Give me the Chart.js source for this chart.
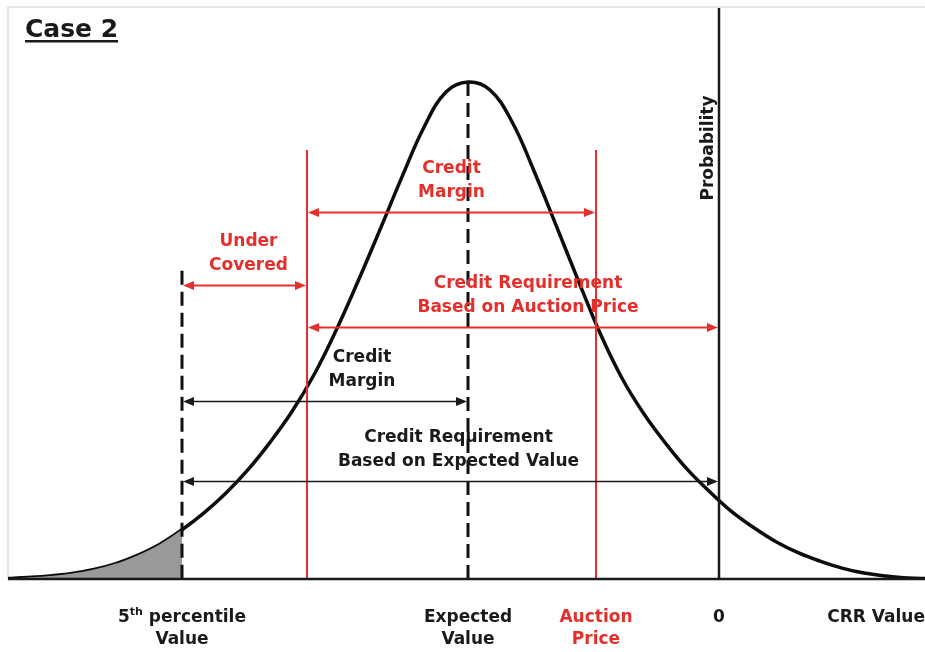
<!DOCTYPE html>
<html><head><meta charset="utf-8">
<script src="https://cdn.jsdelivr.net/npm/chart.js@4.4.1/dist/chart.umd.min.js"></script>
<style>html,body{margin:0;padding:0;background:#fff;}canvas{display:block;}</style>
</head><body>
<canvas id="c" width="925" height="652"></canvas>
<script>
// ---- data (CRR value on x, relative probability density on y) ----
const curveX = [-7.13, -6.91, -6.69, -6.47, -6.25, -6.03, -5.81, -5.59, -5.37, -5.15, -4.93, -4.71, -4.49, -4.27, -4.05, -3.83, -3.61, -3.39, -3.17, -2.95, -2.73, -2.51, -2.29, -2.07, -1.85, -1.63, -1.41, -1.19, -0.97, -0.75, -0.53, -0.31, -0.09, 0.13, 0.35, 0.57, 0.79, 1.01, 1.23, 1.45, 1.67, 1.89, 2.11];
const curveY = [0.001, 0.003, 0.006, 0.011, 0.019, 0.031, 0.048, 0.070, 0.099, 0.133, 0.173, 0.220, 0.275, 0.337, 0.411, 0.500, 0.599, 0.703, 0.809, 0.909, 0.980, 1.0, 0.984, 0.920, 0.821, 0.712, 0.602, 0.495, 0.404, 0.332, 0.272, 0.219, 0.175, 0.135, 0.103, 0.075, 0.053, 0.036, 0.022, 0.012, 0.006, 0.002, 0.001];

const fifthPercentile = -5.37;
const creditReqStart = -4.12;
const expectedValue = -2.51;
const auctionPrice = -1.23;
const zeroValue = 0;

const arrowFrom = [creditReqStart, fifthPercentile, creditReqStart, fifthPercentile, fifthPercentile];
const arrowTo = [auctionPrice, creditReqStart, zeroValue, expectedValue, zeroValue];
const arrowLevel = [0.738, 0.591, 0.507, 0.358, 0.197];
const arrowLabels = [
  ['Credit', 'Margin'],
  ['Under', 'Covered'],
  ['Credit Requirement', 'Based on Auction Price'],
  ['Credit', 'Margin'],
  ['Credit Requirement', 'Based on Expected Value']
];
const arrowRed = [true, true, true, false, false];

const axisTickValues = [fifthPercentile, expectedValue, auctionPrice, zeroValue];
const axisTickLabels = [['5th percentile', 'Value'], ['Expected', 'Value'], ['Auction', 'Price'], ['0']];
const chartTitle = 'Case 2';
const xTitle = 'CRR Value';
const yTitle = 'Probability';

// ---- styling ----
const RED = '#e3302d';
const FONT = 'bold 17px "DejaVu Sans"';
const labelDx = [0, 4, 15, 37, 8];

const tailData = curveX.map((x, i) => ({x, y: curveY[i]})).filter(p => p.x <= fifthPercentile);
const curveData = curveX.map((x, i) => ({x, y: curveY[i]}));

function arrowHead(ctx, x, y, dir, color) {
  ctx.fillStyle = color;
  ctx.beginPath();
  ctx.moveTo(x, y);
  ctx.lineTo(x - dir * 11, y - 4.5);
  ctx.lineTo(x - dir * 11, y + 4.5);
  ctx.closePath();
  ctx.fill();
}

const diagram = {
  id: 'diagram',
  beforeDraw(chart) {
    const {ctx, chartArea: a} = chart;
    ctx.save();
    ctx.strokeStyle = '#e6e6e6';
    ctx.lineWidth = 2;
    ctx.beginPath();
    ctx.moveTo(a.left, a.bottom);
    ctx.lineTo(a.left, a.top - 1);
    ctx.lineTo(a.right, a.top - 1);
    ctx.stroke();
    ctx.restore();
  },
  afterDatasetsDraw(chart) {
    const {ctx, chartArea: a, scales: {x: xs, y: ys}} = chart;
    const px = v => xs.getPixelForValue(v);
    const py = v => ys.getPixelForValue(v);
    ctx.save();
    // dashed lines
    ctx.strokeStyle = '#111';
    ctx.lineWidth = 3;
    ctx.setLineDash([14, 7]);
    ctx.beginPath();
    ctx.moveTo(px(fifthPercentile), py(0.62));
    ctx.lineTo(px(fifthPercentile), a.bottom);
    ctx.moveTo(px(expectedValue), py(1.0));
    ctx.lineTo(px(expectedValue), a.bottom);
    ctx.stroke();
    ctx.setLineDash([]);
    // red lines
    ctx.strokeStyle = RED;
    ctx.lineWidth = 2;
    ctx.beginPath();
    [creditReqStart, auctionPrice].forEach(v => {
      ctx.moveTo(px(v), py(0.863));
      ctx.lineTo(px(v), a.bottom);
    });
    ctx.stroke();
    // zero line
    ctx.strokeStyle = '#1a1a1a';
    ctx.lineWidth = 2.5;
    ctx.beginPath();
    ctx.moveTo(px(zeroValue), a.top);
    ctx.lineTo(px(zeroValue), a.bottom);
    ctx.stroke();
    // baseline
    ctx.beginPath();
    ctx.moveTo(a.left, a.bottom);
    ctx.lineTo(a.right, a.bottom);
    ctx.stroke();
    // arrows
    arrowFrom.forEach((f, i) => {
      const color = arrowRed[i] ? RED : '#1a1a1a';
      const x1 = px(f) + 1, x2 = px(arrowTo[i]) - 1, y = Math.round(py(arrowLevel[i])) + 0.5;
      ctx.strokeStyle = color;
      ctx.lineWidth = arrowRed[i] ? 2 : 1.5;
      ctx.beginPath();
      ctx.moveTo(x1 + 5, y);
      ctx.lineTo(x2 - 5, y);
      ctx.stroke();
      arrowHead(ctx, x1, y, -1, color);
      arrowHead(ctx, x2, y, 1, color);
      const cx = (px(f) + px(arrowTo[i])) / 2 + labelDx[i];
      ctx.fillStyle = color;
      ctx.font = FONT;
      ctx.textAlign = 'center';
      ctx.textBaseline = 'middle';
      ctx.fillText(arrowLabels[i][0], cx, y - 44);
      ctx.fillText(arrowLabels[i][1], cx, y - 20);
    });
    // axis tick labels
    ctx.font = FONT;
    ctx.textBaseline = 'middle';
    axisTickValues.forEach((v, i) => {
      const cx = px(v);
      ctx.fillStyle = v === auctionPrice ? RED : '#1a1a1a';
      const lines = axisTickLabels[i];
      if (lines[0].startsWith('5th')) {
        const rest = lines[0].slice(3);
        ctx.font = FONT;
        const w5 = ctx.measureText('5').width, wr = ctx.measureText(rest).width;
        ctx.font = 'bold 11px "DejaVu Sans"';
        const wt = ctx.measureText('th').width;
        const start = cx - (w5 + wt + wr) / 2;
        ctx.textAlign = 'left';
        ctx.font = FONT;
        ctx.fillText('5', start, a.bottom + 39);
        ctx.font = 'bold 11px "DejaVu Sans"';
        ctx.fillText('th', start + w5, a.bottom + 33);
        ctx.font = FONT;
        ctx.fillText(rest, start + w5 + wt, a.bottom + 39);
      } else {
        ctx.textAlign = 'center';
        ctx.fillText(lines[0], cx, a.bottom + 39);
      }
      ctx.textAlign = 'center';
      if (lines[1]) ctx.fillText(lines[1], cx, a.bottom + 61);
    });
    ctx.fillStyle = '#1a1a1a';
    ctx.textAlign = 'right';
    ctx.fillText(xTitle, a.right, a.bottom + 39);
    // y title
    ctx.save();
    ctx.translate(px(zeroValue) - 10, a.top + 140);
    ctx.rotate(-Math.PI / 2);
    ctx.textAlign = 'center';
    ctx.fillText(yTitle, 0, 0);
    ctx.restore();
    // chart title
    ctx.font = 'bold 25px "DejaVu Sans"';
    ctx.textAlign = 'left';
    ctx.textBaseline = 'alphabetic';
    ctx.fillText(chartTitle, 25, 37);
    const tw = ctx.measureText(chartTitle).width;
    ctx.fillRect(25, 40, tw, 2.5);
    ctx.restore();
  }
};

new Chart(document.getElementById('c'), {
  type: 'scatter',
  data: {
    datasets: [
      { data: tailData, showLine: true, fill: 'origin', backgroundColor: '#999999', borderWidth: 0, pointRadius: 0, tension: 0.4 },
      { data: curveData, showLine: true, fill: false, borderColor: '#0d0d0d', borderWidth: 3.5, pointRadius: 0, tension: 0.4 }
    ]
  },
  options: {
    responsive: false,
    animation: false,
    layout: { padding: { left: 8, right: 0, top: 8, bottom: 73 } },
    plugins: { legend: { display: false }, tooltip: { enabled: false } },
    scales: {
      x: { type: 'linear', min: -7.11, max: 2.06, display: false },
      y: { type: 'linear', min: 0, max: 1.1489, display: false }
    }
  },
  plugins: [diagram]
});
</script>
</body></html>
